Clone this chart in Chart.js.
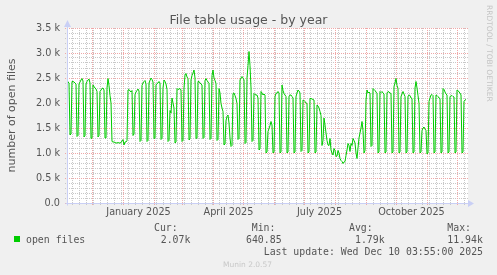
<!DOCTYPE html>
<html><head><meta charset="utf-8">
<script src="https://cdn.jsdelivr.net/npm/chart.js@4/dist/chart.umd.min.js"></script>
<style>html,body{margin:0;padding:0;background:#f0f0f0;}canvas{display:block;}</style>
</head><body>
<canvas id="c" width="497" height="275"></canvas>
<script>
// ---- data ----
const startDate = '2024-11-06';   // first plotted day
const spanDays = 400;
const seriesName = 'open files';
const openFiles = [
 2460,2420,2400,1360,1380,
 2430,2430,2420,2400,2380,1330,1350,
 2380,2420,2460,2490,2440,1320,1350,
 2380,2430,2460,2480,2400,1290,1300,
 2360,2330,2300,2280,2230,1320,1350,
 2230,2260,2290,2300,2260,1300,1300,
 2300,2490,2350,2150,2000,1230,1220,
 1220,1210,1200,1200,1210,1200,1200,
 1210,1240,1270,1160,1220,1220,1250,
 2260,2270,2240,2220,2250,1350,1380,
 2170,2220,2250,2280,2240,1230,1250,
 2350,2400,2430,2450,2380,1230,1250,
 2400,2450,2500,2470,2420,1290,1300,
 2360,2390,2400,2430,2400,1270,1290,
 2300,2460,2430,2380,2270,1230,1250,
 1850,1800,2100,2000,1900,1200,1220,
 2290,2270,2280,2290,2260,1230,1250,
 2300,2560,2590,2520,2490,1260,1280,
 2460,2550,2600,2660,2500,1290,1300,
 2430,2430,2400,2380,2360,1290,1310,
 2450,2490,2450,2420,2390,1270,1290,
 2550,2660,2500,2450,2390,1250,1270,
 2290,2200,1990,1900,1830,1160,1180,
 1650,1730,1760,1600,1300,1130,1150,
 2190,2200,2150,2090,1990,1270,1290,
 2460,2500,2530,2500,2460,1190,1210,
 2500,2750,3030,2750,2300,1230,1250,
 2190,2170,2160,2160,2100,1060,1080,
 2230,2200,2160,2180,2160,1000,1020,
 1430,1490,1550,1630,1560,1000,1020,
 2130,2190,2200,2230,2200,1000,1020,
 2360,2250,2190,2160,2130,1000,1020,
 2130,2160,2160,2130,2100,1000,1020,
 2130,2200,2260,2240,2200,1030,1050,
 2060,2050,2030,2000,1990,1000,1020,
 2090,2090,2080,2070,2060,1000,1020,
 1960,1940,1900,1830,1750,1150,1250,
 1700,1560,1400,1250,1160,1150,1290,
 1060,1000,960,1090,1050,930,940,
 1050,1000,890,850,830,790,820,
 830,950,1060,1190,1150,1030,1190,
 1150,1290,1250,1200,1000,890,1100,
 1300,1400,1500,1630,1450,1000,1050,
 2060,2260,2200,2220,2200,1130,1150,
 2290,2270,2250,2220,2190,1000,1020,
 2230,2210,2230,2200,2180,1000,1020,
 2200,2230,2220,2200,2190,1000,1020,
 2330,2400,2490,2350,2290,1000,1020,
 2130,2180,2230,2180,2130,1000,1020,
 2130,2160,2150,2100,2090,1000,1020,
 2300,2430,2300,2150,1990,1000,1020,
 1450,1500,1520,1480,1450,980,1000,
 2030,2100,2160,2170,2150,1000,1020,
 2160,2150,2130,2100,2090,1000,1020,
 2290,2270,2220,2180,2160,1000,1020,
 2130,2140,2150,2130,2120,1000,1020,
 2260,2250,2220,2200,2160,1000,1020,
 2030,2060,2070
];
const xTickMonths = ['2025-01-01','2025-04-01','2025-07-01','2025-10-01'];
const xTickLabels = ['January 2025','April 2025','July 2025','October 2025'];
const yTickValues = [0,500,1000,1500,2000,2500,3000,3500];
const yTickLabels = ['0.0','0.5 k','1.0 k','1.5 k','2.0 k','2.5 k','3.0 k','3.5 k'];
const statNames = ['Cur:','Min:','Avg:','Max:'];
const statValues = ['2.07k','640.85','1.79k','11.94k'];
const titleText = 'File table usage - by year';
const yTitle = 'number of open files';
const lastUpdate = 'Last update: Wed Dec 10 03:55:00 2025';
const sideText = 'RRDTOOL / TOBI OETIKER';
const footerText = 'Munin 2.0.57';

// ---- helpers ----
const DAY = 86400000;
const t0 = Date.parse(startDate + 'T00:00:00Z');
const dayOf = s => (Date.parse(s + 'T00:00:00Z') - t0) / DAY;
const points = openFiles.map((v, i) => ({x: i, y: v}));
const labelDays = xTickMonths.map(m => dayOf(m) + 15.5);
const monthDays = [], weekDays = [];
{
  const d0 = new Date(t0);
  let y = d0.getUTCFullYear(), m = d0.getUTCMonth() + 1;
  for (;;) {
    const t = Date.UTC(y, m, 1); const d = (t - t0) / DAY;
    if (d > spanDays) break; monthDays.push(d); m++; if (m > 11) { m = 0; y++; }
  }
  for (let d = 0; d <= spanDays; d++) { if (new Date(t0 + d * DAY).getUTCDay() === 1) weekDays.push(d); }
}
const minorY = []; for (let v = 100; v <= 3500; v += 100) if (v % 500) minorY.push(v);

const MINOR = '#c8c8c8';
const MAJOR = '#efa8a8';
const AXIS = '#c9cff5';
const FONT = 'DejaVu Sans';
const MONO = 'DejaVu Sans Mono';
const TXT = '#555555';

const deco = {
  id: 'deco',
  beforeDraw(chart) {
    const {ctx, chartArea: a} = chart;
    ctx.save();
    ctx.fillStyle = '#f0f0f0'; ctx.fillRect(0, 0, chart.width, chart.height);
    ctx.fillStyle = '#ffffff'; ctx.fillRect(a.left, a.top, a.right - a.left + 1, a.bottom - a.top);
    ctx.restore();
  },
  beforeDatasetsDraw(chart) {
    const {ctx, chartArea: a} = chart;
    const xs = chart.scales.x, ys = chart.scales.y;
    const L = a.left - 2, R = a.right + 1, T = a.top, B = a.bottom + 2;
    const px = v => Math.floor(xs.getPixelForValue(v)) + 0.5;
    const py = v => Math.floor(ys.getPixelForValue(v)) + 0.5;
    ctx.save();
    ctx.lineWidth = 1; ctx.setLineDash([1, 1]);
    ctx.strokeStyle = MINOR;
    weekDays.forEach(d => { if (monthDays.includes(d)) return; const x = px(d); ctx.beginPath(); ctx.moveTo(x, B); ctx.lineTo(x, T); ctx.stroke(); });
    minorY.forEach(v => { const y = py(v); ctx.beginPath(); ctx.moveTo(L, y); ctx.lineTo(R, y); ctx.stroke(); });
    ctx.strokeStyle = MAJOR;
    monthDays.forEach(d => { const x = px(d); ctx.beginPath(); ctx.moveTo(x, B); ctx.lineTo(x, T); ctx.stroke(); });
    yTickValues.forEach(v => { const y = py(v); ctx.beginPath(); ctx.moveTo(L, y); ctx.lineTo(R, y); ctx.stroke(); });
    ctx.restore();
  },
  afterDraw(chart) {
    const {ctx} = chart;
    const xs = chart.scales.x, ys = chart.scales.y;
    const x0 = Math.floor(xs.getPixelForValue(0)) + 0.5;
    const yb = Math.floor(ys.getPixelForValue(0)) + 0.5;
    const yt = ys.getPixelForValue(3500);
    const xr = xs.getPixelForValue(spanDays);
    ctx.save();
    ctx.strokeStyle = AXIS; ctx.lineWidth = 1;
    ctx.beginPath(); ctx.moveTo(x0, yb + 2); ctx.lineTo(x0, yt - 4); ctx.stroke();
    ctx.beginPath(); ctx.moveTo(x0 - 2, yb); ctx.lineTo(xr + 2, yb); ctx.stroke();
    ctx.fillStyle = AXIS;
    ctx.beginPath(); ctx.moveTo(x0 - 3.5, yt - 1); ctx.lineTo(x0 + 3.5, yt - 1); ctx.lineTo(x0, yt - 8); ctx.closePath(); ctx.fill();
    ctx.beginPath(); ctx.moveTo(xr + 1, yb - 3.5); ctx.lineTo(xr + 1, yb + 3.5); ctx.lineTo(xr + 7, yb); ctx.closePath(); ctx.fill();
    ctx.fillStyle = TXT; ctx.textBaseline = 'alphabetic';
    ctx.font = '12.5px "' + FONT + '"'; ctx.textAlign = 'center';
    ctx.fillText(titleText, chart.width / 2, 23.5);
    ctx.save();
    ctx.fillStyle = '#c4c4c4'; ctx.font = '7.5px "' + FONT + '"';
    ctx.translate(488.5, 5); ctx.rotate(Math.PI / 2); ctx.textAlign = 'left'; ctx.textBaseline = 'middle';
    ctx.fillText(sideText, 0, 0);
    ctx.restore();
    ctx.fillStyle = '#00cc00'; ctx.fillRect(14, 236, 6, 6);
    ctx.fillStyle = TXT; ctx.font = '9.85px "' + MONO + '"'; ctx.textAlign = 'left';
    ctx.fillText(seriesName, 26, 242.5);
    const headX = [154, 251.7, 349, 447.3];
    const valX = [160.7, 246, 355, 447.3];
    statNames.forEach((s, i) => ctx.fillText(s, headX[i], 231));
    statValues.forEach((s, i) => ctx.fillText(s, valX[i], 242.5));
    ctx.textAlign = 'right';
    ctx.fillText(lastUpdate, 483, 254.5);
    ctx.fillStyle = '#c8c8c8'; ctx.font = '7.5px "' + FONT + '"'; ctx.textAlign = 'center';
    ctx.fillText(footerText, 247.5, 266.5);
    ctx.restore();
  }
};

new Chart(document.getElementById('c'), {
  type: 'line',
  data: {datasets: [{
    label: seriesName, data: points, xAxisID: 'x', yAxisID: 'y',
    borderColor: '#00cc00', borderWidth: 1, pointRadius: 0, tension: 0, fill: false
  }]},
  options: {
    responsive: false, animation: false, devicePixelRatio: 1,
    layout: {padding: {left: 0, top: 28, right: 30, bottom: 0}},
    plugins: {legend: {display: false}, tooltip: {enabled: false}, title: {display: false}},
    scales: {
      x: {
        type: 'linear', position: 'bottom', min: 0, max: spanDays,
        afterBuildTicks: s => { s.ticks = labelDays.map(v => ({value: v})); },
        afterFit: s => { s.height = 72; },
        grid: {display: false, drawTicks: false}, border: {display: false},
        ticks: {autoSkip: false, maxRotation: 0, padding: 4, color: TXT,
          font: {family: FONT, size: 9.7}, callback: (v, i) => xTickLabels[i]}
      },
      y: {
        type: 'linear', position: 'left', min: 0, max: 3500,
        afterBuildTicks: s => { s.ticks = yTickValues.map(v => ({value: v})); },
        afterFit: s => { s.width = 67; },
        grid: {display: false, drawTicks: false}, border: {display: false},
        ticks: {padding: 7, color: TXT, font: {family: FONT, size: 9.7}, callback: (v, i) => yTickLabels[i]},
        title: {display: true, text: yTitle, color: TXT, font: {family: FONT, size: 11}, padding: {top: 5.4, bottom: 0}}
      }
    }
  },
  plugins: [deco]
});
</script>
</body></html>
